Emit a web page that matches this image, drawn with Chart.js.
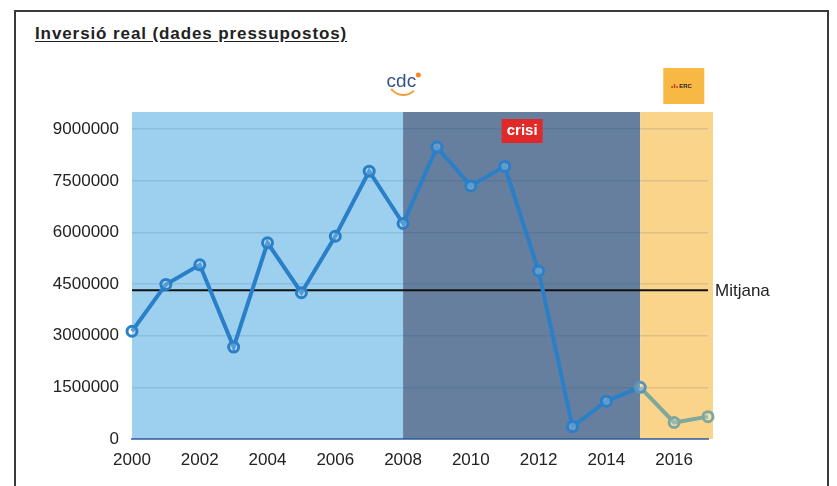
<!DOCTYPE html>
<html>
<head>
<meta charset="utf-8">
<script src="https://cdn.jsdelivr.net/npm/chart.js@4/dist/chart.umd.min.js"></script>
<style>
  html, body { margin: 0; padding: 0; background: #fff; }
  #wrap { position: relative; width: 837px; height: 486px; overflow: hidden; font-family: "Liberation Sans", Arial, sans-serif; }
  #frame { position: absolute; left: 14px; top: 10px; width: 815px; height: 500px; border: 2px solid #3a3a3a; box-sizing: border-box; }
  #title { position: absolute; left: 35px; top: 24px; font-size: 17px; letter-spacing: 0.9px; font-weight: bold; color: #222; text-decoration: underline; text-underline-offset: 2px; }
  #chart { position: absolute; left: 0; top: 0; }
</style>
</head>
<body>
<div id="wrap">
  <div id="frame"></div>
  <div id="title">Inversió real (dades pressupostos)</div>
  <canvas id="chart" width="837" height="486"></canvas>
</div>
<script>
(function() {
  'use strict';

  // data
  const YEARS = ['2000','2001','2002','2003','2004','2005','2006','2007','2008',
                 '2009','2010','2011','2012','2013','2014','2015','2016','2017'];
  const INVERSIO = [3130000, 4490000, 5060000, 2670000, 5700000, 4250000, 5890000, 7780000, 6260000,
                    8480000, 7350000, 7920000, 4880000, 360000, 1100000, 1500000, 480000, 650000];
  const MITJANA = 4320000;
  const Y_TICKS = [0, 1500000, 3000000, 4500000, 6000000, 7500000, 9000000];
  const X_TICK_LABELS = ['2000','2002','2004','2006','2008','2010','2012','2014','2016'];
  const PERIOD_BOUNDS = ['2000', '2008', '2015', '2017'];
  const PERIOD_LABELS = ['cdc', 'crisi', 'ERC'];

  const FONT = '"Liberation Sans", Arial, sans-serif';
  const lineBlue = '#2a80c8';
  const lineGreen = '#7fa89c';
  const ercStart = YEARS.indexOf(PERIOD_BOUNDS[2]);

  const periodsPlugin = {
    id: 'periods',
    beforeDraw(chart) {
      const { ctx, chartArea: a, scales: { x } } = chart;
      const colors = ['#9dd0ee', '#667f9e', '#fbd48c'];
      ctx.save();
      for (let i = 0; i < 3; i++) {
        const x0 = x.getPixelForValue(YEARS.indexOf(PERIOD_BOUNDS[i]));
        let x1 = x.getPixelForValue(YEARS.indexOf(PERIOD_BOUNDS[i + 1]));
        if (i === 2) x1 += 5;
        ctx.fillStyle = colors[i];
        ctx.fillRect(x0, a.top, x1 - x0, a.bottom - a.top);
      }
      ctx.restore();
    },
    afterDraw(chart) {
      const { ctx, chartArea: a, scales: { x, y } } = chart;
      ctx.save();
      // Mitjana label
      ctx.fillStyle = '#222';
      ctx.font = '17px ' + FONT;
      ctx.textBaseline = 'middle';
      ctx.fillText('Mitjana', a.right + 7, y.getPixelForValue(MITJANA) + 1);

      // cdc logo
      const cx = x.getPixelForValue(7.95);
      ctx.font = '19px ' + FONT;
      ctx.fillStyle = '#34508e';
      ctx.textAlign = 'center';
      ctx.fillText(PERIOD_LABELS[0], cx, 82);
      ctx.fillStyle = '#f08a24';
      ctx.beginPath(); ctx.arc(cx + 17, 75, 2.5, 0, Math.PI * 2); ctx.fill();
      ctx.strokeStyle = '#f0a040'; ctx.lineWidth = 2;
      ctx.beginPath(); ctx.arc(cx + 2, 80, 15, 0.25 * Math.PI, 0.8 * Math.PI); ctx.stroke();

      // crisi box
      const kx = x.getPixelForValue(11.5);
      ctx.fillStyle = '#e02a2a';
      ctx.fillRect(kx - 20, 119, 41, 24);
      ctx.fillStyle = '#fff';
      ctx.font = 'bold 15px ' + FONT;
      ctx.fillText(PERIOD_LABELS[1], kx + 0.5, 131);

      // ERC box
      const ex = x.getPixelForValue(16.3);
      ctx.fillStyle = '#f7b944';
      ctx.fillRect(ex - 21, 68, 41, 36);
      ctx.fillStyle = '#d0401a';
      ctx.fillRect(ex - 13, 86, 1.5, 2);
      ctx.fillRect(ex - 10.5, 84, 1.5, 4);
      ctx.fillRect(ex - 8, 86, 1.5, 2);
      ctx.fillStyle = '#222';
      ctx.font = 'bold 6px ' + FONT;
      ctx.textAlign = 'left';
      ctx.fillText(PERIOD_LABELS[2], ex - 5, 86.5);
      ctx.restore();
    }
  };

  new Chart(document.getElementById('chart'), {
    type: 'line',
    data: {
      labels: YEARS,
      datasets: [
        {
          label: 'Inversió real',
          data: INVERSIO,
          borderColor: lineBlue,
          borderWidth: 4,
          tension: 0,
          pointRadius: 5,
          pointBorderWidth: 3,
          pointBackgroundColor: 'rgba(255,255,255,0.22)',
          pointBorderColor: INVERSIO.map((v, i) => i > ercStart ? lineGreen : (i === ercStart ? '#5d93b8' : lineBlue)),
          segment: { borderColor: c => c.p0DataIndex >= ercStart ? lineGreen : lineBlue },
          order: 1
        },
        {
          label: 'Mitjana',
          data: YEARS.map(() => MITJANA),
          borderColor: '#111',
          borderWidth: 2,
          pointRadius: 0,
          order: 2
        }
      ]
    },
    options: {
      responsive: false,
      animation: false,
      layout: { padding: { top: 112, left: 0, right: 129, bottom: 0 } },
      plugins: { legend: { display: false }, tooltip: { enabled: false } },
      scales: {
        x: {
          grid: { display: false, drawTicks: false },
          border: { display: true, color: 'rgba(40,90,150,0.7)', width: 2 },
          ticks: {
            autoSkip: false, maxRotation: 0, padding: 11, color: '#222',
            font: { family: FONT, size: 17 },
            callback: (v, i) => X_TICK_LABELS.includes(YEARS[i]) ? YEARS[i] : ''
          },
          afterFit: s => { s.height = 47; }
        },
        y: {
          min: 0, max: 9500000,
          afterBuildTicks: s => { s.ticks = Y_TICKS.map(v => ({ value: v })); },
          grid: { color: 'rgba(30,60,110,0.13)', drawTicks: false, lineWidth: 1.5 },
          border: { display: false },
          ticks: {
            padding: 13, color: '#222',
            font: { family: FONT, size: 17 },
            callback: v => String(v)
          },
          afterFit: s => { s.width = 132; }
        }
      }
    },
    plugins: [periodsPlugin]
  });
})();
</script>
</body>
</html>
